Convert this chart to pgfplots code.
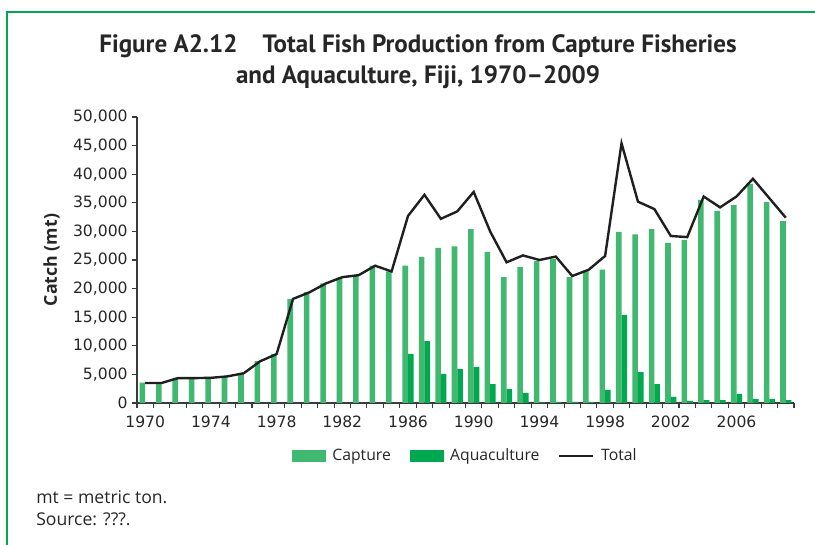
\documentclass[border=0pt]{standalone}
\usepackage{fontspec}
\setmainfont{Open Sans}
\newfontfamily\tickfont{DejaVu Sans}
\newfontfamily\titlefont{PT Sans}
\usepackage{pgfplots}
\pgfplotsset{compat=1.18}
\usepackage{pgfplotstable}

\definecolor{capt}{HTML}{41B86F}
\definecolor{aqua}{HTML}{00A84F}
\definecolor{framegreen}{HTML}{00A650}
\definecolor{axisgray}{HTML}{3A3A3A}

% year, capture, aquaculture, total (metric tons)
\pgfplotstableread{
year capture aqua total
1970 3550 0 3500
1971 3500 0 3500
1972 4400 0 4350
1973 4400 0 4350
1974 4400 0 4400
1975 4600 0 4650
1976 5100 0 5200
1977 7300 0 7300
1978 8600 0 8550
1979 18200 0 18200
1980 19400 0 19350
1981 20900 0 20900
1982 21900 0 22000
1983 22200 0 22350
1984 24000 0 24000
1985 23000 0 23000
1986 24000 8600 32700
1987 25500 10800 36400
1988 27100 5100 32200
1989 27400 5900 33500
1990 30400 6300 36900
1991 26400 3300 30000
1992 22000 2450 24600
1993 23800 1750 25800
1994 24800 100 25000
1995 25200 200 25600
1996 22000 200 22200
1997 23100 200 23300
1998 23300 2300 25700
1999 29900 15400 45400
2000 29500 5400 35200
2001 30400 3300 33900
2002 28000 1050 29200
2003 28500 350 29000
2004 35500 500 36100
2005 33600 500 34200
2006 34600 1600 36100
2007 38300 700 39200
2008 35100 700 35800
2009 31800 500 32400
}\fish

\begin{document}
\begin{tikzpicture}
\useasboundingbox (0,0) rectangle (611.25pt,408.75pt);
\draw[framegreen, line width=1pt] (5.25pt,0pt) -- (5.25pt,399.75pt) -- (611.25pt,399.75pt);

\node[font=\titlefont\bfseries\fontsize{18.8}{23.25}\selectfont, align=center, text=black!85]
  at (313.5pt,362.6pt) {Figure A2.12\quad Total Fish Production from Capture Fisheries\\and Aquaculture, Fiji, 1970–2009};

\begin{axis}[
  at={(102.75pt,106.5pt)}, anchor=south west,
  scale only axis, width=492.75pt, height=214.5pt,
  xmin=1969.5, xmax=2009.5, ymin=0, ymax=50000,
  axis x line*=bottom, axis y line*=left,
  axis line style={draw=axisgray, line width=0.8pt, -},
  tick style={draw=axisgray, line width=0.8pt},
  tick align=outside,
  xtick={1970,1974,...,2006},
  xticklabels={1970,1974,1978,1982,1986,1990,1994,1998,2002,2006},
  xticklabel style={yshift=-2.5pt},
  major x tick style={draw=none},
  minor xtick={1969.5,1970.5,...,2009.5},
  minor tick length=3.5pt, major tick length=3.5pt,
  ytick={0,5000,...,50000},
  scaled y ticks=false,
  yticklabel style={/pgf/number format/1000 sep={,}},
  /pgf/number format/assume math mode=true,
  ticklabel style={font=\tickfont\fontsize{11.7}{13}\selectfont, text=black!85},
  ylabel={Catch (mt)},
  ylabel style={font=\bfseries\fontsize{13.3}{15}\selectfont, text=black!85, anchor=center, at={(axis description cs:-0.13,0.5)}},
  legend style={at={(0.5,-0.185)}, anchor=center, draw=none, legend columns=3,
    font=\fontsize{11.8}{13}\selectfont, text=black!85,
    /tikz/every odd column/.append style={column sep=3pt},
    /tikz/every even column/.append style={column sep=12pt}},
  clip=false,
]
\addplot[ybar, bar width=4.2pt, bar shift=-2.1pt, fill=capt, draw=none,
  legend image code/.code={\fill[capt] (0pt,-4.5pt) rectangle (25.5pt,4.5pt);}]
  table[x=year, y=capture] {\fish};
\addlegendentry{Capture}
\addplot[ybar, bar width=4.2pt, bar shift=2.1pt, fill=aqua, draw=none,
  legend image code/.code={\fill[aqua] (0pt,-4.5pt) rectangle (25.5pt,4.5pt);}]
  table[x=year, y=aqua] {\fish};
\addlegendentry{Aquaculture}
\addplot[black!88, line width=1.8pt, sharp plot, no marks,
  legend image code/.code={\draw[black!88, line width=1.8pt] (0pt,0pt) -- (25.5pt,0pt);}]
  table[x=year, y=total] {\fish};
\addlegendentry{Total}
\end{axis}

\node[anchor=west, inner sep=0pt, font=\fontsize{13.2}{14}\selectfont, text=black!85] at (27pt,36pt) {mt = metric ton.};
\node[anchor=west, inner sep=0pt, font=\fontsize{13.2}{14}\selectfont, text=black!85] at (27pt,19.5pt) {Source: ???.};
\end{tikzpicture}
\end{document}
